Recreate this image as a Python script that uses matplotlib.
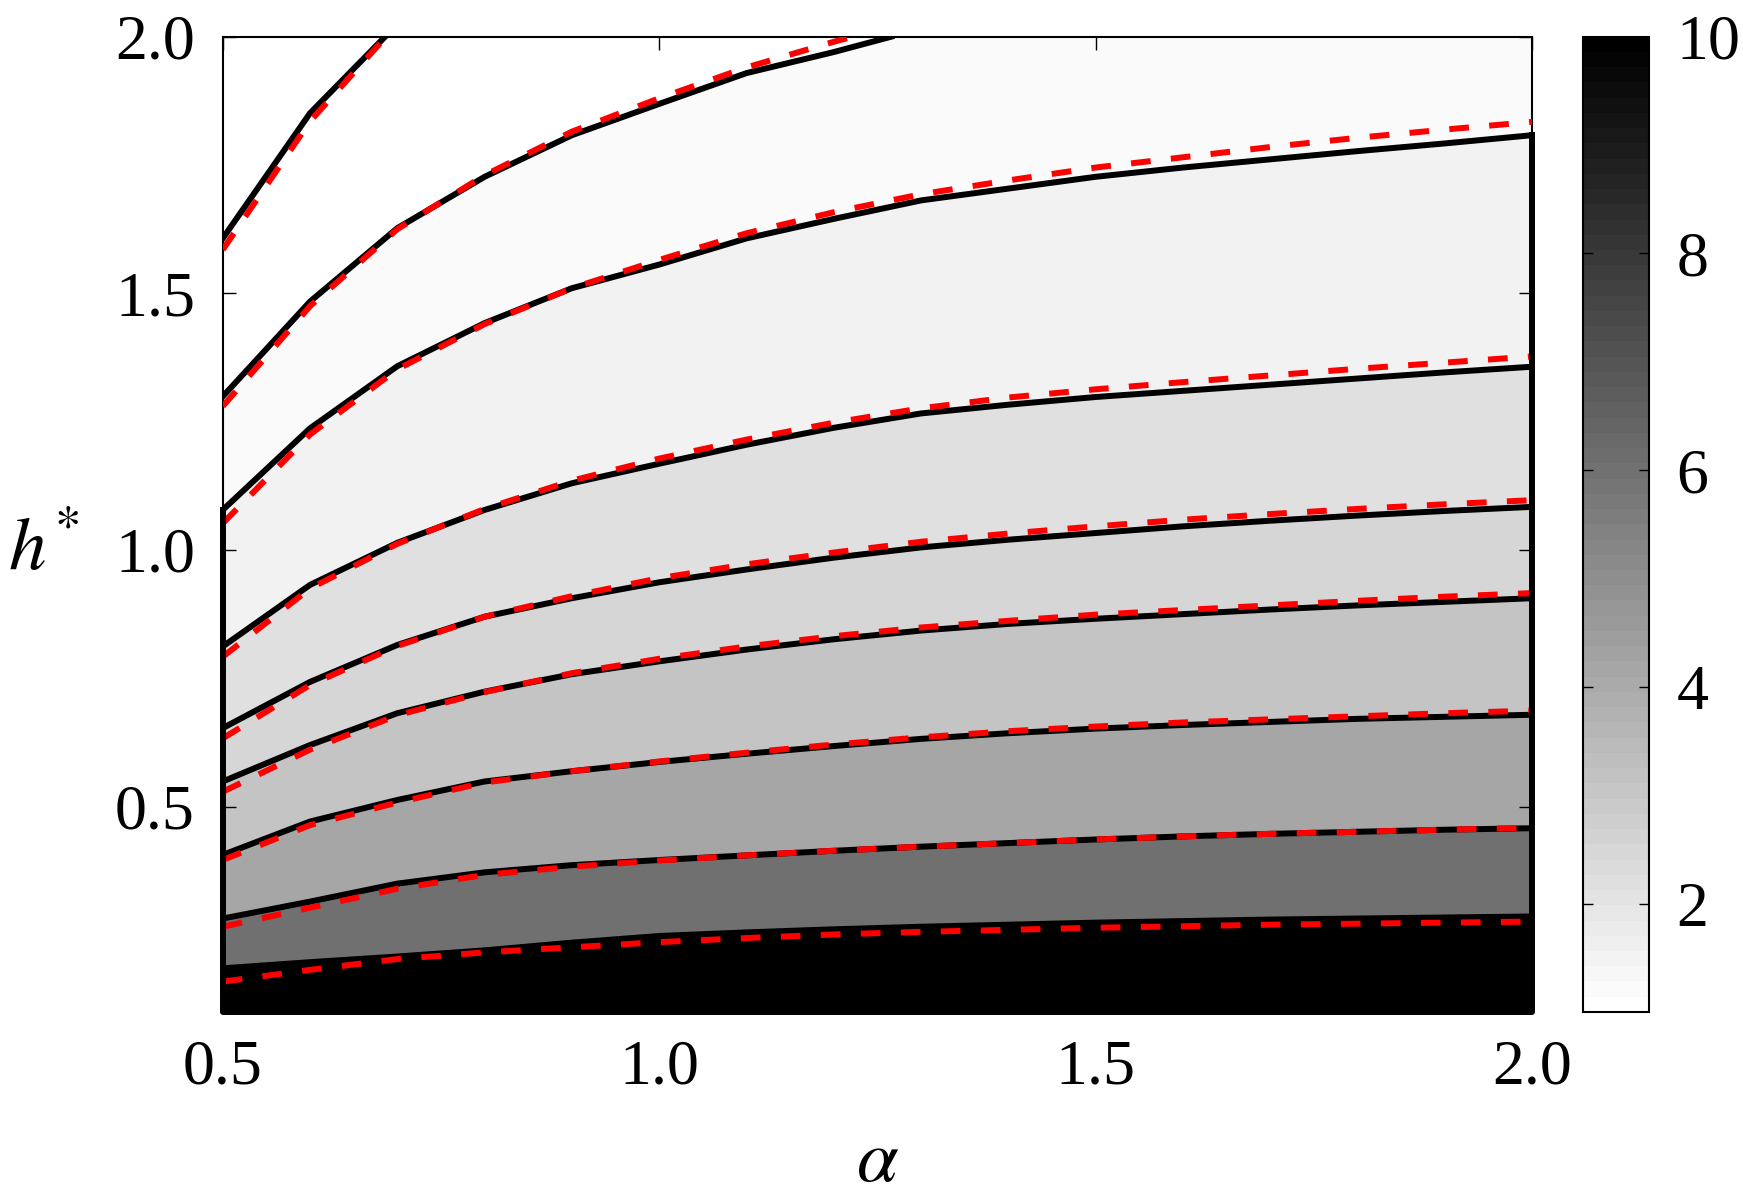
import matplotlib
matplotlib.use('Agg')
import matplotlib as mpl
import matplotlib.pyplot as plt
from matplotlib.colors import Normalize

plt.rcParams['font.family'] = ['Liberation Serif', 'DejaVu Serif']
plt.rcParams['mathtext.fontset'] = 'stix'

# alpha grid shared by the full-width contour lines
alpha = [0.5, 0.6, 0.7, 0.8, 0.9, 1.0, 1.1, 1.2, 1.3, 1.4, 1.5, 1.6, 1.7, 1.8, 1.9, 2.0]

# solid black contours (two top ones leave through the top of the plot)
blk1_a = [0.5, 0.6, 0.686]
blk1_h = [1.607, 1.851, 2.0]
blk2_a = [0.5, 0.6, 0.7, 0.8, 0.9, 1.0, 1.1, 1.2, 1.266]
blk2_h = [1.299, 1.484, 1.627, 1.727, 1.808, 1.869, 1.929, 1.970, 2.0]
blk3_h = [1.078, 1.237, 1.358, 1.442, 1.510, 1.556, 1.607, 1.645, 1.681, 1.704, 1.727, 1.745, 1.761, 1.777, 1.792, 1.808]
blk4_h = [0.812, 0.932, 1.014, 1.078, 1.130, 1.168, 1.205, 1.238, 1.266, 1.283, 1.298, 1.310, 1.322, 1.334, 1.346, 1.357]
blk5_h = [0.653, 0.743, 0.815, 0.870, 0.906, 0.937, 0.962, 0.985, 1.005, 1.020, 1.033, 1.046, 1.057, 1.067, 1.076, 1.084]
blk6_h = [0.549, 0.620, 0.682, 0.724, 0.758, 0.783, 0.806, 0.826, 0.843, 0.856, 0.866, 0.875, 0.884, 0.892, 0.899, 0.906]
blk7_h = [0.406, 0.471, 0.513, 0.549, 0.569, 0.587, 0.603, 0.618, 0.632, 0.643, 0.652, 0.659, 0.665, 0.671, 0.675, 0.679]
blk8_h = [0.282, 0.315, 0.350, 0.372, 0.386, 0.396, 0.405, 0.414, 0.422, 0.429, 0.436, 0.442, 0.447, 0.451, 0.455, 0.458]
blk9_h = [0.185, 0.197, 0.208, 0.220, 0.235, 0.248, 0.255, 0.261, 0.266, 0.270, 0.274, 0.277, 0.280, 0.282, 0.284, 0.286]

# red dashed contours
red1_a = [0.5, 0.6, 0.687]
red1_h = [1.585, 1.835, 2.0]
red2_a = [0.5, 0.6, 0.7, 0.8, 0.9, 1.0, 1.1, 1.2, 1.222]
red2_h = [1.280, 1.475, 1.625, 1.730, 1.815, 1.880, 1.940, 1.990, 2.0]
red3_h = [1.052, 1.225, 1.352, 1.440, 1.510, 1.565, 1.617, 1.658, 1.693, 1.720, 1.745, 1.765, 1.785, 1.803, 1.819, 1.834]
red4_h = [0.792, 0.925, 1.012, 1.080, 1.135, 1.178, 1.215, 1.248, 1.276, 1.297, 1.313, 1.327, 1.340, 1.353, 1.365, 1.377]
red5_h = [0.633, 0.737, 0.813, 0.870, 0.910, 0.945, 0.972, 0.995, 1.016, 1.032, 1.046, 1.059, 1.070, 1.080, 1.089, 1.097]
red6_h = [0.529, 0.611, 0.678, 0.723, 0.760, 0.788, 0.812, 0.832, 0.849, 0.862, 0.874, 0.883, 0.892, 0.901, 0.909, 0.916]
red7_h = [0.396, 0.464, 0.508, 0.547, 0.569, 0.588, 0.605, 0.621, 0.635, 0.647, 0.656, 0.664, 0.670, 0.676, 0.682, 0.687]
red8_h = [0.266, 0.303, 0.340, 0.367, 0.383, 0.395, 0.405, 0.414, 0.422, 0.429, 0.436, 0.442, 0.447, 0.451, 0.455, 0.459]
red9_h = [0.159, 0.182, 0.203, 0.216, 0.226, 0.236, 0.244, 0.251, 0.256, 0.260, 0.264, 0.267, 0.270, 0.272, 0.274, 0.276]

# fill level of each band: top band first, then the band below each black line
band_level = [1.0, 1.03, 1.21, 1.46, 2.09, 2.45, 3.08, 4.14, 6.05, 10.0]

xticks = [0.5, 1.0, 1.5, 2.0]
yticks = [0.5, 1.0, 1.5, 2.0]
cbar_ticks = [2, 4, 6, 8, 10]

black_lines = [(blk1_a, blk1_h), (blk2_a, blk2_h)] + [(alpha, h) for h in
               [blk3_h, blk4_h, blk5_h, blk6_h, blk7_h, blk8_h, blk9_h]]
red_lines = [(red1_a, red1_h), (red2_a, red2_h)] + [(alpha, h) for h in
             [red3_h, red4_h, red5_h, red6_h, red7_h, red8_h, red9_h]]

xmin, xmax, ymin, ymax = 0.5, 2.0, 0.1, 2.0
cmap = mpl.colormaps['gray_r']
norm = Normalize(vmin=1, vmax=10)

fig = plt.figure(figsize=(17.43, 11.98), dpi=100)
ax = fig.add_axes([0.1278, 0.1553, 0.7512, 0.8141])
cax = fig.add_axes([0.908, 0.1553, 0.0379, 0.8141])

ax.set_facecolor(cmap(norm(band_level[0])))
for (a, h), lev in zip(black_lines, band_level[1:]):
    ax.fill(list(a) + [xmax, xmax, xmin], list(h) + [h[-1], ymin, ymin],
            color=cmap(norm(lev)), lw=0, zorder=1)

for a, h in black_lines:
    ax.plot(a, h, color='k', lw=4.3, zorder=2)
for a, h in red_lines:
    ax.plot(a, h, color='red', lw=4.3, linestyle=(0, (3.3, 3.4)), zorder=3)

# thick outline round the lower filled region
ax.plot([xmin, xmin, xmax, xmax], [blk3_h[0], ymin, ymin, blk3_h[-1]],
        color='k', lw=4.3, solid_joinstyle='round', clip_on=False, zorder=4)

ax.set_xlim(xmin, xmax)
ax.set_ylim(ymin, ymax)
ax.set_xticks(xticks)
ax.set_yticks(yticks)
ax.set_xticklabels(['%.1f' % t for t in xticks])
ax.set_yticklabels(['%.1f' % t for t in yticks])
ax.tick_params(direction='in', top=True, right=True, length=9.5, width=1,
               labelsize=46, pad=20)
for s in ax.spines.values():
    s.set_linewidth(1.5)

ax.set_xlabel(r'$\alpha$', fontsize=54)
ax.xaxis.set_label_coords(0.5, -0.155)
ax.xaxis.label.set_va('center')
ax.set_ylabel(r'$h^{*}$', fontsize=54, rotation=0)
ax.yaxis.set_label_coords(-0.137, 0.472)
ax.yaxis.label.set_va('center')
ax.yaxis.label.set_ha('center')

sm = mpl.cm.ScalarMappable(norm=norm, cmap=cmap.resampled(64))
cb = fig.colorbar(sm, cax=cax, ticks=cbar_ticks)
cb.outline.set_linewidth(1.5)
cax.tick_params(direction='in', left=True, right=True, length=7, width=1,
                labelsize=46, pad=20)
cax.set_yticklabels([str(t) for t in cbar_ticks])

fig.savefig('out.png', dpi=100)
